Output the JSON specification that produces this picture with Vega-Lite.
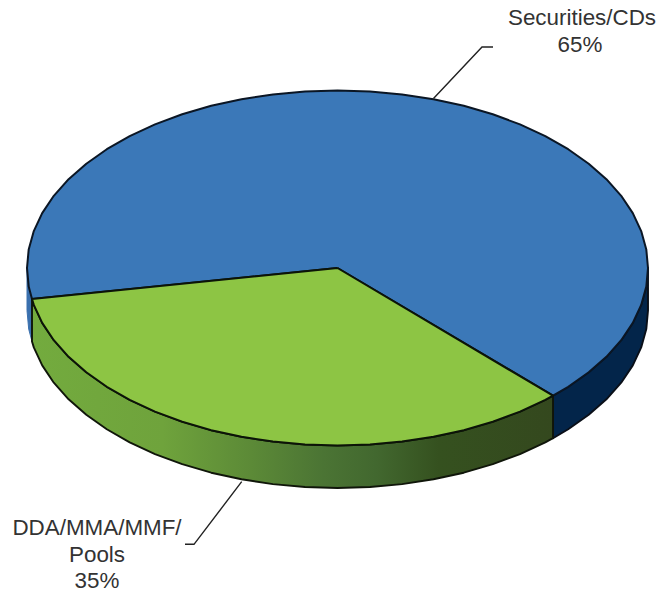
{
"$schema":"https://vega.github.io/schema/vega-lite/v6.json",
"width":662,"height":593,"padding":0,"autosize":{"type":"none"},
"background":"white",
"config":{"view":{"stroke":null}},
"datasets":{
"sliver":[{"i":1,"x":27,"y":268},{"i":2,"x":28.7,"y":286.6},{"i":3,"x":32,"y":299},{"i":4,"x":32,"y":341.5},{"i":5,"x":28.7,"y":329.1},{"i":6,"x":27,"y":310.5},{"i":7,"x":27,"y":268}],
"navy":[{"i":1,"x":553,"y":395.7},{"i":2,"x":568.2,"y":386.8},{"i":3,"x":588.7,"y":372.3},{"i":4,"x":606.4,"y":356.8},{"i":5,"x":621.2,"y":340.2},{"i":6,"x":632.8,"y":322.9},{"i":7,"x":641.2,"y":304.9},{"i":8,"x":646.3,"y":286.6},{"i":9,"x":648,"y":268},{"i":10,"x":648,"y":310.5},{"i":11,"x":646.3,"y":329.1},{"i":12,"x":641.2,"y":347.4},{"i":13,"x":632.8,"y":365.4},{"i":14,"x":621.2,"y":382.7},{"i":15,"x":606.4,"y":399.3},{"i":16,"x":588.7,"y":414.8},{"i":17,"x":568.2,"y":429.3},{"i":18,"x":553,"y":438.2},{"i":19,"x":553,"y":395.7}],
"greenSide":[{"i":1,"x":553,"y":395.7},{"i":2,"x":545.3,"y":399.9},{"i":3,"x":520,"y":411.6},{"i":4,"x":492.8,"y":421.7},{"i":5,"x":463.8,"y":430.2},{"i":6,"x":433.5,"y":436.8},{"i":7,"x":402.1,"y":441.6},{"i":8,"x":370,"y":444.5},{"i":9,"x":337.5,"y":445.5},{"i":10,"x":305,"y":444.5},{"i":11,"x":272.9,"y":441.6},{"i":12,"x":241.5,"y":436.8},{"i":13,"x":211.2,"y":430.2},{"i":14,"x":182.2,"y":421.7},{"i":15,"x":155,"y":411.6},{"i":16,"x":129.7,"y":399.9},{"i":17,"x":106.8,"y":386.8},{"i":18,"x":86.3,"y":372.3},{"i":19,"x":68.6,"y":356.8},{"i":20,"x":53.8,"y":340.2},{"i":21,"x":42.2,"y":322.9},{"i":22,"x":33.8,"y":304.9},{"i":23,"x":32,"y":299},{"i":24,"x":32,"y":341.5},{"i":25,"x":33.8,"y":347.4},{"i":26,"x":42.2,"y":365.4},{"i":27,"x":53.8,"y":382.7},{"i":28,"x":68.6,"y":399.3},{"i":29,"x":86.3,"y":414.8},{"i":30,"x":106.8,"y":429.3},{"i":31,"x":129.7,"y":442.4},{"i":32,"x":155,"y":454.1},{"i":33,"x":182.2,"y":464.2},{"i":34,"x":211.2,"y":472.7},{"i":35,"x":241.5,"y":479.3},{"i":36,"x":272.9,"y":484.1},{"i":37,"x":305,"y":487},{"i":38,"x":337.5,"y":488},{"i":39,"x":370,"y":487},{"i":40,"x":402.1,"y":484.1},{"i":41,"x":433.5,"y":479.3},{"i":42,"x":463.8,"y":472.7},{"i":43,"x":492.8,"y":464.2},{"i":44,"x":520,"y":454.1},{"i":45,"x":545.3,"y":442.4},{"i":46,"x":553,"y":438.2},{"i":47,"x":553,"y":395.7}],
"blueTop":[{"i":0,"x":337.5,"y":268},{"i":1,"x":32,"y":299},{"i":2,"x":28.7,"y":286.6},{"i":3,"x":27,"y":268},{"i":4,"x":28.7,"y":249.4},{"i":5,"x":33.8,"y":231.1},{"i":6,"x":42.2,"y":213.1},{"i":7,"x":53.8,"y":195.8},{"i":8,"x":68.6,"y":179.2},{"i":9,"x":86.3,"y":163.7},{"i":10,"x":106.8,"y":149.2},{"i":11,"x":129.7,"y":136.1},{"i":12,"x":155,"y":124.4},{"i":13,"x":182.2,"y":114.3},{"i":14,"x":211.2,"y":105.8},{"i":15,"x":241.5,"y":99.2},{"i":16,"x":272.9,"y":94.4},{"i":17,"x":305,"y":91.5},{"i":18,"x":337.5,"y":90.5},{"i":19,"x":370,"y":91.5},{"i":20,"x":402.1,"y":94.4},{"i":21,"x":433.5,"y":99.2},{"i":22,"x":463.8,"y":105.8},{"i":23,"x":492.8,"y":114.3},{"i":24,"x":520,"y":124.4},{"i":25,"x":545.3,"y":136.1},{"i":26,"x":568.2,"y":149.2},{"i":27,"x":588.7,"y":163.7},{"i":28,"x":606.4,"y":179.2},{"i":29,"x":621.2,"y":195.8},{"i":30,"x":632.8,"y":213.1},{"i":31,"x":641.2,"y":231.1},{"i":32,"x":646.3,"y":249.4},{"i":33,"x":648,"y":268},{"i":34,"x":646.3,"y":286.6},{"i":35,"x":641.2,"y":304.9},{"i":36,"x":632.8,"y":322.9},{"i":37,"x":621.2,"y":340.2},{"i":38,"x":606.4,"y":356.8},{"i":39,"x":588.7,"y":372.3},{"i":40,"x":568.2,"y":386.8},{"i":41,"x":553,"y":395.7},{"i":42,"x":337.5,"y":268}],
"greenTop":[{"i":0,"x":337.5,"y":268},{"i":1,"x":553,"y":395.7},{"i":2,"x":545.3,"y":399.9},{"i":3,"x":520,"y":411.6},{"i":4,"x":492.8,"y":421.7},{"i":5,"x":463.8,"y":430.2},{"i":6,"x":433.5,"y":436.8},{"i":7,"x":402.1,"y":441.6},{"i":8,"x":370,"y":444.5},{"i":9,"x":337.5,"y":445.5},{"i":10,"x":305,"y":444.5},{"i":11,"x":272.9,"y":441.6},{"i":12,"x":241.5,"y":436.8},{"i":13,"x":211.2,"y":430.2},{"i":14,"x":182.2,"y":421.7},{"i":15,"x":155,"y":411.6},{"i":16,"x":129.7,"y":399.9},{"i":17,"x":106.8,"y":386.8},{"i":18,"x":86.3,"y":372.3},{"i":19,"x":68.6,"y":356.8},{"i":20,"x":53.8,"y":340.2},{"i":21,"x":42.2,"y":322.9},{"i":22,"x":33.8,"y":304.9},{"i":23,"x":32,"y":299},{"i":24,"x":337.5,"y":268}],
"leaders":[{"share":"Securities/CDs","i":1,"x":433.5,"y":98.5},{"share":"Securities/CDs","i":2,"x":482,"y":47},{"share":"Securities/CDs","i":3,"x":493,"y":47},{"share":"DDA/MMA/MMF/Pools","i":1,"x":241.7,"y":481.7},{"share":"DDA/MMA/MMF/Pools","i":2,"x":194,"y":544.3},{"share":"DDA/MMA/MMF/Pools","i":3,"x":185,"y":544.3}],
"labels":[{"label":"Securities/CDs","x":582,"y":25},{"label":"65%","x":580,"y":52},{"label":"DDA/MMA/MMF/","x":97,"y":535},{"label":"Pools","x":97,"y":562},{"label":"35%","x":97,"y":588}]
},
"encoding":{
"x":{"field":"x","type":"quantitative","axis":null,"scale":{"domain":[0,662],"range":[0,662],"nice":false,"zero":false}},
"y":{"field":"y","type":"quantitative","axis":null,"scale":{"domain":[593,0],"range":[593,0],"nice":false,"zero":false}}
},
"layer":[
{"data":{"name":"sliver"},"mark":{"type":"line","fill":"#3A70AE","stroke":"#3A70AE","strokeWidth":1,"clip":false},"encoding":{"order":{"field":"i","type":"quantitative"}}},
{"data":{"name":"navy"},"mark":{"type":"line","fill":"#03254A","stroke":"#0A0F18","strokeWidth":1.9,"strokeJoin":"round"},"encoding":{"order":{"field":"i","type":"quantitative"}}},
{"data":{"name":"greenSide"},"mark":{"type":"line","stroke":"#10160A","strokeWidth":1.9,"strokeJoin":"round","fill":{"gradient":"linear","x1":0,"y1":0,"x2":1,"y2":0,"stops":[{"offset":0,"color":"#73AB3E"},{"offset":0.25,"color":"#6FA33C"},{"offset":0.42,"color":"#5C8A37"},{"offset":0.56,"color":"#4B7434"},{"offset":0.66,"color":"#42682F"},{"offset":0.78,"color":"#35511F"},{"offset":1,"color":"#34481E"}]}},"encoding":{"order":{"field":"i","type":"quantitative"}}},
{"data":{"name":"blueTop"},"mark":{"type":"line","fill":"#3B78B8","stroke":"#0B1624","strokeWidth":2,"strokeJoin":"round"},"encoding":{"order":{"field":"i","type":"quantitative"}}},
{"data":{"name":"greenTop"},"mark":{"type":"line","fill":"#8DC544","stroke":"#0C1408","strokeWidth":2,"strokeJoin":"round"},"encoding":{"order":{"field":"i","type":"quantitative"}}},
{"data":{"name":"leaders"},"mark":{"type":"line","stroke":"#222222","strokeWidth":1.4},"encoding":{"detail":{"field":"share"},"order":{"field":"i","type":"quantitative"}}},
{"data":{"name":"labels"},"mark":{"type":"text","font":"Liberation Sans","fontSize":22.4,"color":"#333333","align":"center","baseline":"alphabetic"},"encoding":{"text":{"field":"label"}}}
]
}
